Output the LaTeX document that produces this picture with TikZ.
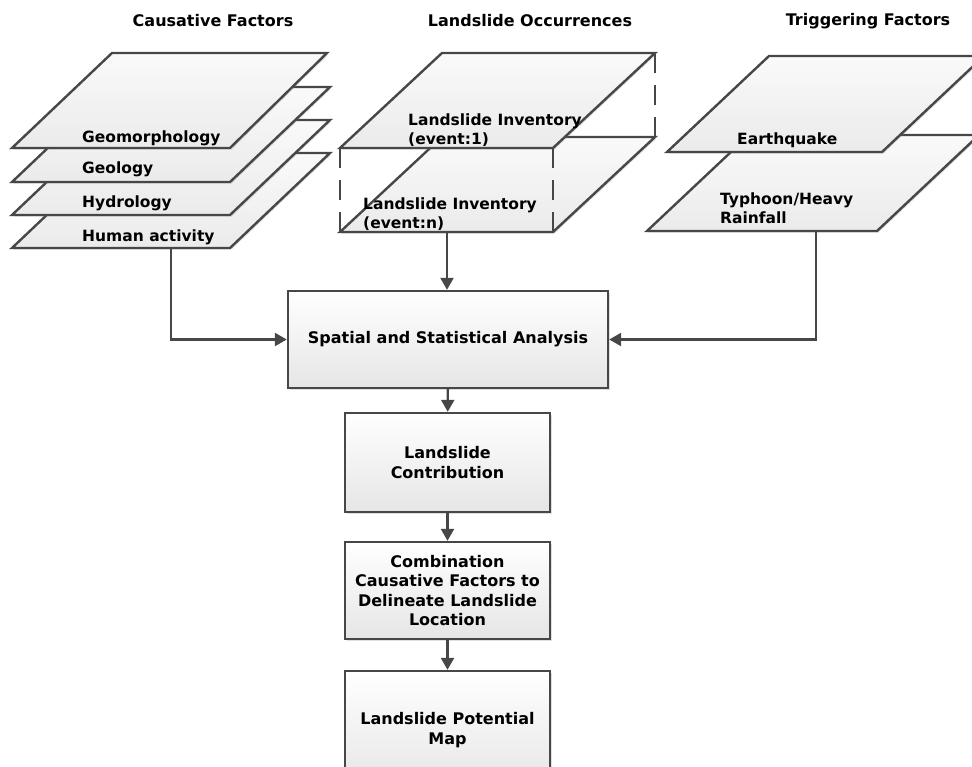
\documentclass[tikz,border=0pt]{standalone}
\usepackage{fontspec}
\setmainfont{DejaVu Sans}
\usetikzlibrary{arrows.meta,shadows,positioning}
\definecolor{edgegray}{HTML}{474747}
\tikzset{
  layer/.style={draw=edgegray, line width=2.4pt, top color=gray!4, bottom color=gray!16,
    drop shadow={shadow xshift=1.5pt, shadow yshift=-1.5pt, opacity=0.25}},
  hiddenedge/.style={draw=edgegray, line width=2.4pt, dash pattern=on 20pt off 12pt},
  lbl/.style={inner sep=0pt, font=\fontsize{15.5pt}{19.5pt}\selectfont\bfseries, align=left},
  hdr/.style={inner sep=0pt, font=\fontsize{16pt}{19pt}\selectfont\bfseries},
  procbox/.style={draw=edgegray, line width=2.4pt, top color=white, bottom color=gray!20,
    align=center, font=\fontsize{16pt}{19.5pt}\selectfont\bfseries,
    drop shadow={shadow xshift=1.5pt, shadow yshift=-1.5pt, opacity=0.25}},
  flow/.style={draw=edgegray, line width=2.4pt, -{Triangle[length=12pt,width=13pt]}}
}
\begin{document}
\begin{tikzpicture}[x=1pt, y=-1pt]
\useasboundingbox (0,0) rectangle (972,766);

\node[hdr] (caushdr) at (213,21) {Causative Factors};
\node[hdr] (occhdr) at (530,21) {Landslide Occurrences};
\node[hdr] (trighdr) at (868,21) {Triggering Factors};

\filldraw[layer] (12,248) -- (230,248) -- (330,153) -- (112,153) -- cycle;
\filldraw[layer] (12,215) -- (230,215) -- (330,120) -- (112,120) -- cycle;
\filldraw[layer] (12,182) -- (230,182) -- (330,87) -- (112,87) -- cycle;
\filldraw[layer] (12,148) -- (230,148) -- (327,53) -- (112,53) -- cycle;
\node[lbl, anchor=base west] (geomorph) at (82,142) {Geomorphology};
\node[lbl, anchor=base west] (geology) at (82,173) {Geology};
\node[lbl, anchor=base west] (hydro) at (82,207) {Hydrology};
\node[lbl, anchor=base west] (human) at (82,241) {Human activity};
\coordinate (hum) at (171,248);

\filldraw[layer] (340,232) -- (553,232) -- (655,137) -- (442,137) -- cycle;
\filldraw[layer] (340,148) -- (553,148) -- (655,53) -- (442,53) -- cycle;
\draw[hiddenedge] (340,148) -- (340,232);
\draw[hiddenedge] (553,148) -- (553,232);
\draw[hiddenedge] (655,53) -- (655,137);
\node[lbl, anchor=west] (inv1) at (408,130) {Landslide Inventory\\(event:1)};
\node[lbl, anchor=west] (invn) at (363,214) {Landslide Inventory\\(event:n)};
\coordinate (occ) at (447,232);

\filldraw[layer] (647,231) -- (877,231) -- (979,135) -- (749,135) -- cycle;
\filldraw[layer] (667,152) -- (882,152) -- (984,56) -- (769,56) -- cycle;
\node[lbl, anchor=base west] (quake) at (737,144) {Earthquake};
\node[lbl, anchor=west] (rain) at (720,208) {Typhoon/Heavy\\Rainfall};
\coordinate (typ) at (816,231);

\node[procbox, minimum width=320, minimum height=97] (analysis) at (448,339.5) {Spatial and Statistical Analysis};
\node[procbox, minimum width=205, minimum height=99] (contrib) at (447.5,462.5) {Landslide\\Contribution};
\node[procbox, minimum width=205, minimum height=97] (combine) at (447.5,590.5) {Combination\\Causative Factors to\\Delineate Landslide\\Location};
\node[procbox, minimum width=205, minimum height=118] (potmap) at (447.5,730) {Landslide Potential\\Map};

\draw[flow] (hum) |- (analysis.west);
\draw[flow] (typ) |- (analysis.east);
\draw[flow] (occ) -- (occ |- analysis.north);
\draw[flow] (analysis) -- (contrib);
\draw[flow] (contrib) -- (combine);
\draw[flow] (combine) -- (potmap);
\end{tikzpicture}
\end{document}
